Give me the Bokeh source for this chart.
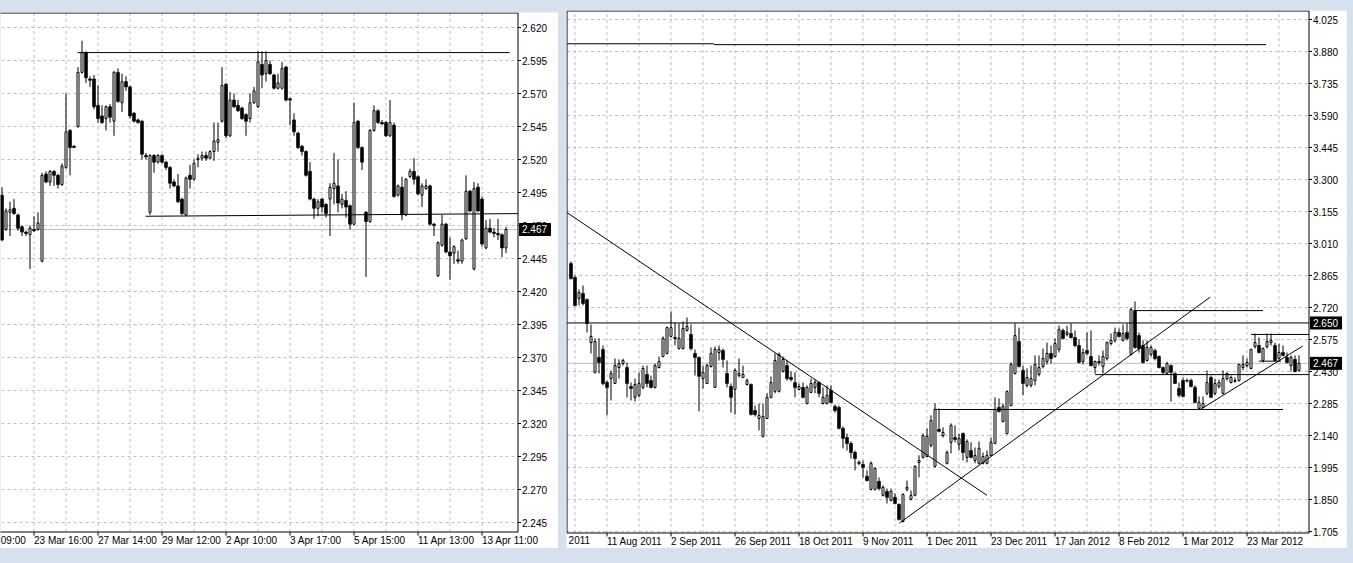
from bokeh.plotting import figure
from bokeh.models import Range1d, ColumnDataSource
from bokeh.layouts import row
from bokeh.core.properties import value
from bokeh.embed import file_html
from bokeh.resources import INLINE

# ---------------- LEFT PANEL (intraday) ----------------
L_open = [2.493,2.467,2.480,2.483,2.478,2.469,2.465,2.463,2.467,2.467,
          2.443,2.509,2.503,2.511,2.508,2.501,2.514,2.542,2.530,2.545,
          2.586,2.601,2.581,2.581,2.561,2.553,2.551,2.560,2.549,2.586,
          2.563,2.579,2.575,2.555,2.550,2.549,2.523,2.480,2.523,2.518,
          2.523,2.518,2.514,2.503,2.500,2.490,2.478,2.508,2.505,2.520,
          2.521,2.523,2.521,2.526,2.533,2.549,2.577,2.538,2.565,2.561,
          2.559,2.554,2.551,2.563,2.560,2.592,2.585,2.592,2.584,2.574,
          2.574,2.590,2.566,2.550,2.540,2.530,2.526,2.511,2.490,2.483,
          2.490,2.486,2.490,2.498,2.500,2.486,2.489,2.485,2.471,2.549,
          2.529,2.480,2.473,2.542,2.557,2.548,2.548,2.538,2.546,2.493,
          2.499,2.478,2.507,2.511,2.507,2.493,2.498,2.500,2.471,2.432,
          2.455,2.471,2.450,2.449,2.444,2.443,2.460,2.496,2.437,2.499,
          2.490,2.453,2.468,2.465,2.464,2.463,2.453]
L_high = [2.499,2.483,2.488,2.490,2.479,2.470,2.466,2.470,2.477,2.480,
          2.510,2.511,2.512,2.512,2.509,2.517,2.570,2.543,2.531,2.590,
          2.610,2.602,2.583,2.584,2.576,2.561,2.561,2.562,2.587,2.589,
          2.585,2.583,2.576,2.556,2.551,2.550,2.525,2.524,2.524,2.524,
          2.524,2.519,2.515,2.505,2.509,2.491,2.507,2.516,2.520,2.524,
          2.526,2.526,2.527,2.548,2.548,2.590,2.578,2.571,2.570,2.565,
          2.560,2.555,2.570,2.575,2.602,2.602,2.602,2.595,2.585,2.585,
          2.594,2.591,2.567,2.555,2.541,2.531,2.527,2.518,2.491,2.490,
          2.491,2.487,2.502,2.525,2.520,2.494,2.496,2.486,2.563,2.550,
          2.530,2.481,2.543,2.561,2.558,2.550,2.549,2.565,2.548,2.501,
          2.507,2.506,2.513,2.521,2.508,2.502,2.505,2.501,2.472,2.458,
          2.478,2.472,2.461,2.455,2.451,2.460,2.508,2.497,2.503,2.502,
          2.492,2.474,2.475,2.468,2.475,2.464,2.469]
L_low = [2.458,2.466,2.462,2.478,2.466,2.462,2.462,2.437,2.465,2.466,
         2.442,2.502,2.500,2.500,2.498,2.500,2.513,2.508,2.529,2.544,
         2.585,2.578,2.575,2.558,2.548,2.547,2.542,2.548,2.538,2.563,
         2.556,2.572,2.551,2.548,2.547,2.520,2.520,2.478,2.510,2.517,
         2.517,2.512,2.498,2.499,2.487,2.478,2.477,2.498,2.504,2.514,
         2.519,2.519,2.520,2.519,2.526,2.548,2.536,2.537,2.559,2.556,
         2.550,2.538,2.548,2.562,2.559,2.574,2.579,2.584,2.573,2.573,
         2.573,2.564,2.546,2.538,2.528,2.523,2.507,2.489,2.475,2.477,
         2.480,2.476,2.462,2.486,2.480,2.483,2.476,2.467,2.470,2.528,
         2.512,2.431,2.472,2.541,2.547,2.546,2.537,2.537,2.491,2.492,
         2.474,2.477,2.506,2.501,2.493,2.484,2.497,2.470,2.462,2.431,
         2.454,2.449,2.429,2.441,2.441,2.441,2.459,2.480,2.436,2.480,
         2.454,2.452,2.464,2.461,2.459,2.446,2.449]
L_close = [2.459,2.481,2.482,2.479,2.468,2.465,2.464,2.468,2.466,2.472,
           2.508,2.503,2.511,2.508,2.501,2.515,2.541,2.529,2.529,2.586,
           2.601,2.582,2.580,2.560,2.551,2.548,2.560,2.552,2.586,2.564,
           2.579,2.575,2.553,2.549,2.548,2.524,2.522,2.523,2.518,2.523,
           2.518,2.514,2.502,2.500,2.488,2.479,2.506,2.505,2.517,2.521,
           2.523,2.521,2.526,2.534,2.535,2.576,2.538,2.565,2.560,2.557,
           2.551,2.549,2.563,2.572,2.594,2.584,2.595,2.585,2.574,2.578,
           2.589,2.565,2.565,2.541,2.529,2.526,2.508,2.490,2.483,2.488,
           2.484,2.479,2.499,2.502,2.487,2.490,2.484,2.471,2.548,2.529,
           2.518,2.473,2.542,2.557,2.548,2.547,2.538,2.548,2.492,2.500,
           2.478,2.505,2.511,2.505,2.494,2.500,2.500,2.471,2.470,2.457,
           2.471,2.450,2.447,2.454,2.443,2.459,2.496,2.481,2.498,2.481,
           2.456,2.468,2.465,2.464,2.463,2.453,2.467]
L_price_ticks = [2.245,2.270,2.295,2.320,2.345,2.370,2.395,2.420,2.445,2.470,
                 2.495,2.520,2.545,2.570,2.595,2.620]
L_date_bars = [8, 24, 40, 56, 72, 88, 104, 120]
L_date_labels = ["23 Mar 16:00", "27 Mar 14:00", "29 Mar 12:00", "2 Apr 10:00",
                 "3 Apr 17:00", "5 Apr 15:00", "11 Apr 13:00", "13 Apr 11:00"]
L_cut_label = ("09:00", -0.3)          # tail of the label scrolled off the left edge
L_grid_bars = [8, 16, 24, 32, 40, 48, 56, 64, 72, 80, 88, 96, 104, 112, 120]
L_current = 2.467
L_boxes = [2.467]
L_lines = [([18.9, 126.9], [2.601, 2.601]),      # resistance
           ([35.9, 129.0], [2.477, 2.479])]      # support

# ---------------- RIGHT PANEL (daily) ----------------
R_open = [2.919,2.856,2.761,2.784,2.756,2.561,2.426,2.494,2.530,2.380,
          2.398,2.376,2.448,2.466,2.448,2.362,2.313,2.322,2.358,2.417,
          2.389,2.358,2.448,2.498,2.512,2.589,2.584,2.534,2.534,2.616,
          2.598,2.512,2.494,2.398,2.376,2.453,2.358,2.516,2.525,2.421,
          2.362,2.349,2.412,2.403,2.371,2.371,2.253,2.217,2.136,2.217,
          2.313,2.340,2.340,2.430,2.457,2.403,2.380,2.349,2.358,2.285,
          2.335,2.358,2.380,2.285,2.285,2.344,2.272,2.267,2.172,2.131,
          2.104,2.063,2.018,2.009,1.955,1.896,1.896,1.932,1.869,1.887,
          1.846,1.860,1.828,1.751,1.896,1.851,1.869,2.018,2.041,2.045,
          2.095,2.000,2.168,2.140,2.014,2.109,2.131,2.100,2.149,2.041,
          2.072,2.027,2.014,2.014,2.014,2.050,2.104,2.267,2.204,2.149,
          2.276,2.421,2.566,2.435,2.367,2.367,2.389,2.417,2.453,2.475,
          2.512,2.498,2.530,2.616,2.598,2.602,2.584,2.548,2.475,2.525,
          2.498,2.448,2.475,2.453,2.489,2.557,2.571,2.607,2.571,2.607,
          2.507,2.706,2.593,2.548,2.480,2.507,2.525,2.498,2.448,2.421,
          2.457,2.421,2.353,2.389,2.389,2.389,2.358,2.263,2.267,2.331,
          2.403,2.331,2.362,2.331,2.398,2.380,2.385,2.389,2.448,2.457,
          2.444,2.543,2.548,2.480,2.543,2.561,2.548,2.489,2.516,2.494,
          2.457,2.485,2.435]
R_high = [2.928,2.865,2.802,2.820,2.761,2.643,2.580,2.580,2.548,2.389,
          2.435,2.489,2.485,2.489,2.471,2.380,2.398,2.426,2.457,2.457,
          2.412,2.466,2.498,2.589,2.634,2.702,2.652,2.648,2.657,2.675,
          2.643,2.530,2.498,2.457,2.466,2.539,2.543,2.548,2.534,2.480,
          2.376,2.444,2.489,2.457,2.398,2.376,2.276,2.285,2.285,2.331,
          2.408,2.512,2.516,2.498,2.480,2.430,2.426,2.376,2.380,2.367,
          2.398,2.394,2.385,2.358,2.367,2.367,2.281,2.276,2.181,2.149,
          2.113,2.072,2.027,2.027,1.982,2.023,1.995,1.950,1.914,1.900,
          1.900,1.878,1.832,1.878,1.936,1.891,2.005,2.050,2.149,2.172,
          2.231,2.285,2.263,2.177,2.072,2.195,2.186,2.149,2.154,2.122,
          2.109,2.086,2.113,2.063,2.072,2.131,2.313,2.308,2.285,2.344,
          2.471,2.648,2.629,2.457,2.444,2.457,2.503,2.503,2.534,2.561,
          2.548,2.580,2.638,2.625,2.638,2.648,2.616,2.575,2.534,2.607,
          2.616,2.480,2.503,2.525,2.566,2.602,2.629,2.625,2.643,2.648,
          2.720,2.747,2.607,2.571,2.571,2.548,2.534,2.503,2.453,2.475,
          2.462,2.426,2.380,2.403,2.398,2.398,2.367,2.317,2.317,2.435,
          2.412,2.398,2.394,2.435,2.426,2.412,2.403,2.466,2.503,2.489,
          2.534,2.602,2.584,2.539,2.602,2.602,2.561,2.557,2.548,2.516,
          2.503,2.503,2.503]
R_low = [2.847,2.725,2.729,2.729,2.607,2.512,2.421,2.421,2.367,2.231,
         2.299,2.374,2.398,2.457,2.313,2.299,2.294,2.313,2.349,2.358,
         2.353,2.353,2.444,2.494,2.507,2.584,2.548,2.530,2.530,2.611,
         2.525,2.412,2.249,2.353,2.374,2.448,2.356,2.480,2.448,2.358,
         2.244,2.235,2.403,2.401,2.367,2.231,2.226,2.163,2.131,2.215,
         2.308,2.331,2.335,2.426,2.389,2.385,2.313,2.344,2.308,2.281,
         2.333,2.331,2.313,2.281,2.281,2.285,2.244,2.168,2.082,2.072,
         2.036,1.982,2.005,1.950,1.932,1.891,1.891,1.891,1.864,1.832,
         1.841,1.828,1.755,1.746,1.887,1.846,1.864,1.950,2.036,2.041,
         2.086,1.995,2.154,2.131,2.009,2.059,2.109,2.072,2.027,2.018,
         2.036,2.014,2.009,2.009,2.009,2.045,2.100,2.244,2.199,2.145,
         2.272,2.417,2.448,2.322,2.358,2.358,2.367,2.408,2.444,2.462,
         2.466,2.494,2.516,2.575,2.589,2.580,2.539,2.466,2.462,2.503,
         2.453,2.421,2.457,2.421,2.480,2.548,2.561,2.584,2.566,2.571,
         2.503,2.534,2.516,2.466,2.475,2.498,2.480,2.444,2.417,2.417,
         2.294,2.374,2.313,2.313,2.380,2.358,2.285,2.258,2.263,2.322,
         2.310,2.322,2.353,2.326,2.389,2.376,2.380,2.385,2.435,2.448,
         2.439,2.534,2.512,2.471,2.534,2.548,2.475,2.480,2.498,2.466,
         2.430,2.426,2.430]
R_close = [2.851,2.729,2.788,2.738,2.648,2.589,2.566,2.471,2.376,2.358,
           2.421,2.457,2.466,2.480,2.376,2.353,2.371,2.376,2.444,2.376,
           2.358,2.457,2.475,2.580,2.629,2.629,2.580,2.580,2.625,2.634,
           2.534,2.494,2.408,2.426,2.457,2.512,2.530,2.530,2.485,2.376,
           2.313,2.435,2.421,2.417,2.389,2.235,2.235,2.231,2.226,2.313,
           2.380,2.480,2.507,2.485,2.398,2.394,2.358,2.362,2.313,2.358,
           2.376,2.380,2.331,2.313,2.322,2.290,2.253,2.172,2.127,2.104,
           2.063,2.036,2.014,1.995,1.936,2.014,1.991,1.900,1.905,1.860,
           1.887,1.832,1.760,1.873,1.905,1.869,2.000,2.027,2.140,2.136,
           2.208,2.258,2.159,2.154,2.063,2.186,2.122,2.127,2.063,2.113,
           2.041,2.050,2.082,2.045,2.050,2.109,2.258,2.249,2.272,2.340,
           2.462,2.593,2.453,2.376,2.403,2.398,2.462,2.448,2.489,2.512,
           2.489,2.557,2.620,2.580,2.607,2.584,2.548,2.471,2.516,2.512,
           2.457,2.475,2.471,2.498,2.561,2.571,2.607,2.589,2.602,2.580,
           2.711,2.539,2.534,2.471,2.539,2.539,2.489,2.448,2.426,2.466,
           2.426,2.376,2.322,2.317,2.387,2.362,2.290,2.290,2.285,2.380,
           2.313,2.376,2.380,2.398,2.421,2.403,2.389,2.462,2.462,2.471,
           2.530,2.561,2.516,2.534,2.566,2.571,2.480,2.516,2.503,2.471,
           2.494,2.430,2.467]
R_price_ticks = [1.705,1.850,1.995,2.140,2.285,2.430,2.575,2.720,2.865,3.010,
                 3.155,3.300,3.445,3.590,3.735,3.880,4.025]
R_date_bars = [9, 25, 41, 57, 73, 89, 105, 121, 137, 153, 169]
R_date_labels = ["11 Aug 2011", "2 Sep 2011", "26 Sep 2011", "18 Oct 2011",
                 "9 Nov 2011", "1 Dec 2011", "23 Dec 2011", "17 Jan 2012", "8 Feb 2012",
                 "1 Mar 2012", "23 Mar 2012"]
R_cut_label = ("2011", -0.6)           # tail of the label scrolled off the left edge
R_grid_bars = [1, 9, 17, 25, 33, 41, 49, 57, 65, 73, 81, 89, 97, 105, 113, 121,
               129, 137, 145, 153, 161, 169, 177]
R_current = 2.467
R_boxes = [2.650, 2.467]
R_lines = [([-1.0, 35.75], [3.915, 3.915]),
           ([35.75, 173.75], [3.911, 3.911]),
           ([-1.0, 184.5], [2.650, 2.650]),       # 2.650 level
           ([-1.0, 104.0], [3.150, 1.869]),       # falling trend
           ([82.1, 159.8], [1.743, 2.767]),       # rising trend
           ([90.75, 178.0], [2.258, 2.258]),
           ([131.0, 184.5], [2.416, 2.416]),
           ([140.75, 173.0], [2.706, 2.706]),
           ([170.0, 184.5], [2.598, 2.598]),
           ([172.0, 177.5], [2.477, 2.477]),
           ([157.3, 182.9], [2.258, 2.545])]      # short rising trend

FONT = "Liberation Sans"
FS = "10px"
BLUE = "#D5E1EF"
GRIDC = "#C0C0C0"


def panel(opens, highs, lows, closes, sx, sy, fig_w, fig_h, px0, py0,
          plot_right, plot_top, plot_bottom, plot_left,
          price_ticks, date_bars, date_labels, cut_label, grid_bars, lines,
          current, boxes, margin):
    """sx/sy map window pixels to bar index / price (calibration of the two scales)."""
    p = figure(width=fig_w, height=fig_h,
               x_range=Range1d(sx(px0), sx(px0 + fig_w)),
               y_range=Range1d(sy(py0 + fig_h), sy(py0)),
               output_backend="svg", toolbar_location=None,
               x_axis_location=None, y_axis_location=None, min_border=0,
               background_fill_color="white", border_fill_color="white",
               outline_line_color=None)
    p.grid.visible = False
    p.margin = margin
    xl, xr_ = sx(plot_left), sx(plot_right)
    yt, yb = sy(plot_top), sy(plot_bottom)
    # dotted grid
    p.segment(x0=grid_bars, x1=grid_bars, y0=[yb] * len(grid_bars), y1=[yt] * len(grid_bars),
              line_color=GRIDC, line_dash="3 3", line_width=1)
    p.segment(x0=[xl] * len(price_ticks), x1=[xr_] * len(price_ticks),
              y0=price_ticks, y1=price_ticks, line_color=GRIDC, line_dash="3 3", line_width=1)
    # current price line
    p.line([xl, xr_], [current, current], line_color=GRIDC, line_width=1)
    # candles
    up = [c >= o for o, c in zip(opens, closes)]
    idx = list(range(len(opens)))
    src = ColumnDataSource(dict(x=idx, high=highs, low=lows))
    p.segment(x0="x", y0="low", x1="x", y1="high", source=src, line_color="black", line_width=1)
    bull = ColumnDataSource(dict(
        x=[i for i in idx if up[i]],
        top=[closes[i] for i in idx if up[i]],
        bottom=[opens[i] for i in idx if up[i]]))
    bear = ColumnDataSource(dict(
        x=[i for i in idx if not up[i]],
        top=[opens[i] for i in idx if not up[i]],
        bottom=[closes[i] for i in idx if not up[i]]))
    p.vbar(x="x", width=0.5, top="top", bottom="bottom", source=bull,
           fill_color="white", line_color="black", line_width=1)
    p.vbar(x="x", width=0.75, top="top", bottom="bottom", source=bear,
           fill_color="black", line_color="black", line_width=0.6)
    # drawn objects
    for xs, ys in lines:
        p.line(xs, ys, line_color="black", line_width=1)
    # chart frame
    p.line([xl, xr_, xr_, xl, xl], [yt, yt, yb, yb, yt], line_color="black", line_width=1)
    # price scale: tick marks + labels
    n = len(price_ticks)
    p.segment(x0=[xr_] * n, x1=[sx(plot_right + 3)] * n, y0=price_ticks, y1=price_ticks,
              line_color="black", line_width=1)
    p.text(x=[sx(plot_right + 4)] * n, y=price_ticks, text=["%.3f" % t for t in price_ticks],
           text_font=value(FONT), text_font_size=value(FS), text_color="black",
           text_align="left", text_baseline="middle")
    # time scale: tick marks + labels
    m = len(date_bars)
    p.segment(x0=date_bars, x1=date_bars, y0=[yb] * m, y1=[sy(plot_bottom + 3.5)] * m,
              line_color="black", line_width=1)
    p.text(x=date_bars + [cut_label[1]], y=[sy(plot_bottom + 3)] * (m + 1),
           text=date_labels + [cut_label[0]],
           text_font=value(FONT), text_font_size=value(FS), text_color="black",
           text_align="left", text_baseline="top")
    # highlighted price boxes on the scale
    k = len(boxes)
    p.rect(x=[sx(plot_right + 17)] * k, y=boxes, width=32, height=13,
           width_units="screen", height_units="screen", fill_color="black", line_color=None)
    p.text(x=[sx(plot_right + 4)] * k, y=boxes, text=["%.3f" % b for b in boxes],
           text_font=value(FONT), text_font_size=value(FS), text_color="white",
           text_align="left", text_baseline="middle")
    return p


def lx(px):
    return (px - 1.5) / 4.0


def ly(py):
    return 2.620 - (py - 27.0) / 1320.0


def rx(px):
    return (px - 570.5) / 4.0


def ry(py):
    return 4.025 - (py - 19.0) / 220.7


left = panel(L_open, L_high, L_low, L_close, lx, ly, 558, 536, 0, 12,
             517.5, 12.5, 531.5, -5,
             L_price_ticks, L_date_bars, L_date_labels, L_cut_label, L_grid_bars, L_lines,
             L_current, L_boxes, (12, 0, 15, 0))

right = panel(R_open, R_high, R_low, R_close, rx, ry, 781, 538, 566, 10,
              1308.5, 10.5, 532.5, 566.5,
              R_price_ticks, R_date_bars, R_date_labels, R_cut_label, R_grid_bars, R_lines,
              R_current, R_boxes, (10, 6, 15, 8))

lay = row(left, right)
lay.styles = {"background-color": BLUE}

open("out.html", "w").write(file_html(lay, INLINE))
